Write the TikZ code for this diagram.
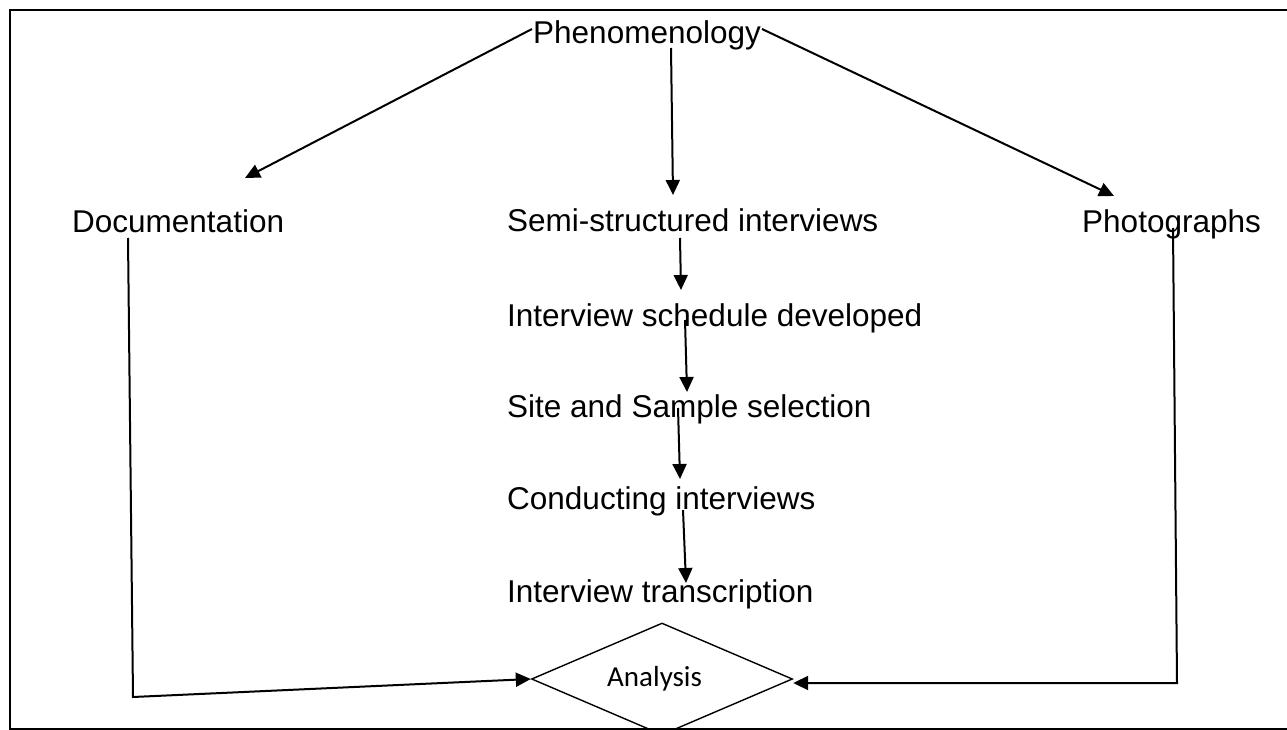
\documentclass[tikz,border=0pt]{standalone}
\usepackage{fontspec}
\setmainfont{Liberation Sans}
\newfontfamily\calib{Carlito}
\usetikzlibrary{arrows.meta,shapes.geometric,calc}
\tikzset{
  lbl/.style={anchor=base west, inner sep=0pt, font=\fontsize{31.5}{36}\selectfont},
  conn/.style={line width=2pt, -{Triangle[length=15pt,width=14pt]}},
  frame/.style={line width=2.2pt},
  dia/.style={diamond, draw, line width=1.4pt, minimum width=261pt, minimum height=112pt, aspect=2.33, inner sep=0pt},
  anatext/.style={anchor=base west, inner sep=0pt, font=\calib\fontsize{29}{34}\selectfont}
}
\begin{document}
\begin{tikzpicture}[x=1pt,y=-1pt]
\useasboundingbox (0,0) rectangle (1287,730);
% nodes
\node[lbl] (phen) at (533,44) {Phenomenology};
\node[lbl] (doc) at (72,232) {Documentation};
\node[lbl] (semi) at (507,231) {Semi-structured interviews};
\node[lbl] (photo) at (1082,232) {Photographs};
\node[lbl] (sched) at (507,326) {Interview schedule developed};
\node[lbl] (site) at (507,417) {Site and Sample selection};
\node[lbl] (cond) at (507,509) {Conducting interviews};
\node[lbl] (trans) at (507,602) {Interview transcription};
\node[dia] (ana) at (662,679) {};
\node[anatext] (analbl) at (607,686) {Analysis};
% frame
\draw[frame] (1290,10) -- (10,10) -- (10,729) -- (1290,729);
% connectors
\draw[conn] ($(phen.base west)+(-1,-15)$) -- ($(doc.base west)+(173,-54)$);
\draw[conn] ($(phen.base west)+(138,4)$) -- ($(semi.base west)+(166,-36)$);
\draw[conn] ($(phen.base west)+(229,-15)$) -- ($(photo.base west)+(32,-36)$);
\draw[conn] ($(semi.base west)+(173,7)$) -- ($(sched.base west)+(174,-36)$);
\draw[conn] ($(sched.base west)+(178,-6)$) -- ($(site.base west)+(180,-25)$);
\draw[conn] ($(site.base west)+(171,-9)$) -- ($(cond.base west)+(173,-30)$);
\draw[conn] ($(cond.base west)+(176,1)$) -- ($(trans.base west)+(179,-19)$);
\draw[conn, line join=miter] ($(doc.base west)+(56,6)$) -- (133,697) -- (ana.west);
\draw[conn, line join=miter] ($(photo.base west)+(91,-4)$) -- (1177,683) -- ($(ana.east)+(0,4)$);
\end{tikzpicture}
\end{document}
